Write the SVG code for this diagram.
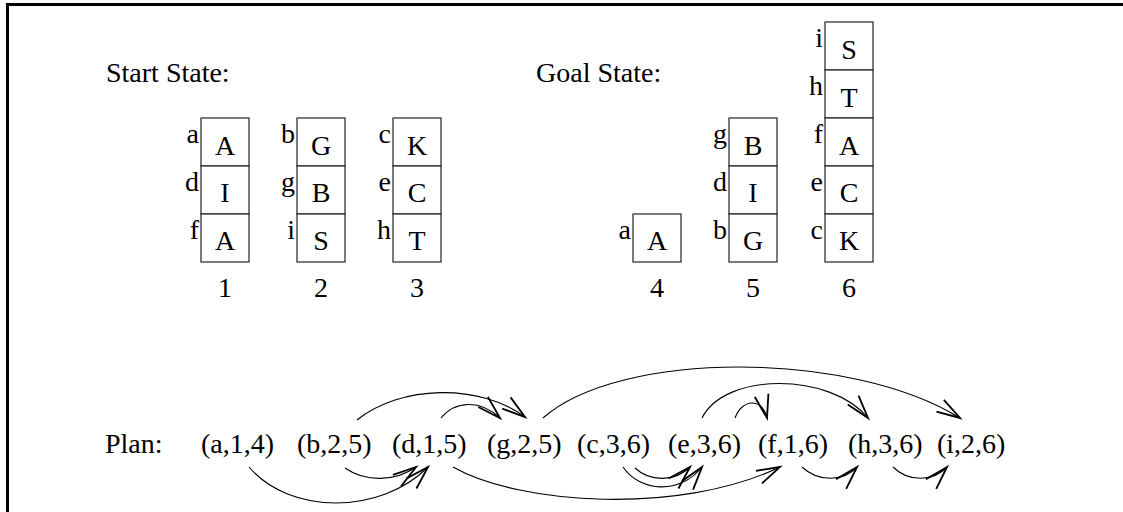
<svg xmlns="http://www.w3.org/2000/svg" width="1123" height="512" viewBox="0 0 1123 512">
<defs>
<style>
text{font-family:"Liberation Serif","Times New Roman",serif;font-size:28px;fill:#000}
.c{text-anchor:middle}
.l{text-anchor:end}
.b{fill:#fff;stroke:#222;stroke-width:1.2}
.e{fill:none;stroke:#000;stroke-width:1.1}
</style>
<marker id="ah" markerUnits="userSpaceOnUse" markerWidth="30" markerHeight="30" refX="0" refY="0" viewBox="-16 -8 18 16" orient="auto" overflow="visible">
<path d="M-14,-4.2 L0,0 L-14,4.2" fill="none" stroke="#000" stroke-width="1.1"/>
</marker>
</defs>
<rect width="1123" height="512" fill="#fff"/>
<path d="M7.5,512 V4.5 H1123" fill="none" stroke="#000" stroke-width="3"/>
<text x="106" y="82">Start State:</text>
<text x="536" y="82">Goal State:</text>
<g id="stack1">
<rect class="b" x="201" y="118" width="48" height="48"/><rect class="b" x="201" y="166" width="48" height="48"/><rect class="b" x="201" y="214" width="48" height="48"/>
<text class="c" x="225" y="155">A</text><text class="c" x="225" y="202">I</text><text class="c" x="225" y="250">A</text>
<text class="l" x="199" y="143">a</text><text class="l" x="199" y="191">d</text><text class="l" x="199" y="239">f</text>
<text class="c" x="225" y="297">1</text>
</g>
<g id="stack2">
<rect class="b" x="297" y="118" width="48" height="48"/><rect class="b" x="297" y="166" width="48" height="48"/><rect class="b" x="297" y="214" width="48" height="48"/>
<text class="c" x="321" y="155">G</text><text class="c" x="321" y="202">B</text><text class="c" x="321" y="250">S</text>
<text class="l" x="295" y="143">b</text><text class="l" x="295" y="191">g</text><text class="l" x="295" y="239">i</text>
<text class="c" x="321" y="297">2</text>
</g>
<g id="stack3">
<rect class="b" x="393" y="118" width="48" height="48"/><rect class="b" x="393" y="166" width="48" height="48"/><rect class="b" x="393" y="214" width="48" height="48"/>
<text class="c" x="417" y="155">K</text><text class="c" x="417" y="202">C</text><text class="c" x="417" y="250">T</text>
<text class="l" x="391" y="143">c</text><text class="l" x="391" y="191">e</text><text class="l" x="391" y="239">h</text>
<text class="c" x="417" y="297">3</text>
</g>
<g id="stack4">
<rect class="b" x="633" y="214" width="48" height="48"/>
<text class="c" x="657" y="250">A</text>
<text class="l" x="631" y="239">a</text>
<text class="c" x="657" y="297">4</text>
</g>
<g id="stack5">
<rect class="b" x="729" y="118" width="48" height="48"/><rect class="b" x="729" y="166" width="48" height="48"/><rect class="b" x="729" y="214" width="48" height="48"/>
<text class="c" x="753" y="155">B</text><text class="c" x="753" y="202">I</text><text class="c" x="753" y="250">G</text>
<text class="l" x="727" y="143">g</text><text class="l" x="727" y="191">d</text><text class="l" x="727" y="239">b</text>
<text class="c" x="753" y="297">5</text>
</g>
<g id="stack6">
<rect class="b" x="825" y="22" width="48" height="48"/><rect class="b" x="825" y="70" width="48" height="48"/><rect class="b" x="825" y="118" width="48" height="48"/><rect class="b" x="825" y="166" width="48" height="48"/><rect class="b" x="825" y="214" width="48" height="48"/>
<text class="c" x="849" y="59">S</text><text class="c" x="849" y="107">T</text><text class="c" x="849" y="155">A</text><text class="c" x="849" y="202">C</text><text class="c" x="849" y="250">K</text>
<text class="l" x="823" y="47">i</text><text class="l" x="823" y="95">h</text><text class="l" x="823" y="143">f</text><text class="l" x="823" y="191">e</text><text class="l" x="823" y="239">c</text>
<text class="c" x="849" y="297">6</text>
</g>
<text x="105" y="453">Plan:</text>
<g id="plan">
<text x="201" y="453">(a,1,4)</text>
<text x="297" y="453">(b,2,5)</text>
<text x="392" y="453">(d,1,5)</text>
<text x="487" y="453">(g,2,5)</text>
<text x="577" y="453">(c,3,6)</text>
<text x="668" y="453">(e,3,6)</text>
<text x="758" y="453">(f,1,6)</text>
<text x="848" y="453">(h,3,6)</text>
<text x="937" y="453">(i,2,6)</text>
</g>
<g id="connectors">
<path class="e" marker-end="url(#ah)" d="M357,420 C400,385 480,383 525,417"/>
<path class="e" marker-end="url(#ah)" d="M441,418 C455,401 480,399 500,418"/>
<path class="e" marker-end="url(#ah)" d="M543,418 C620,350 850,350 960,418"/>
<path class="e" marker-end="url(#ah)" d="M702,418 C725,372 830,372 868,418"/>
<path class="e" marker-end="url(#ah)" d="M735,418 C742,399 762,397 767,418"/>
<path class="e" marker-end="url(#ah)" d="M249,467 C290,515 380,515 428,467"/>
<path class="e" marker-end="url(#ah)" d="M345,468 C365,482 395,482 416,467"/>
<path class="e" marker-end="url(#ah)" d="M453,467 C520,505 680,515 780,467"/>
<path class="e" marker-end="url(#ah)" d="M623,467 C640,492 680,495 702,467"/>
<path class="e" marker-end="url(#ah)" d="M635,468 C650,482 675,482 690,467"/>
<path class="e" marker-end="url(#ah)" d="M802,467 C818,482 843,482 857,467"/>
<path class="e" marker-end="url(#ah)" d="M893,467 C908,482 933,482 947,467"/>
</g>
</svg>
